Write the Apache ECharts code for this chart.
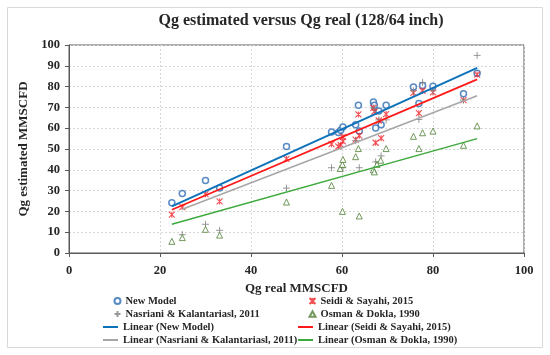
<!DOCTYPE html>
<html><head><meta charset="utf-8">
<script src="https://cdn.jsdelivr.net/npm/echarts@6/dist/echarts.min.js"></script>
<style>html,body{margin:0;padding:0;background:#fff}#c{width:550px;height:355px}</style>
</head><body><div id="c"></div>
<script>
// ---- data ----
const newModelX = [22.6, 24.9, 30.0, 33.1, 47.8, 57.7, 59.2, 59.7, 60.2, 63.0, 63.6, 63.8, 66.9, 67.1, 67.4, 68.1, 68.6, 69.7, 75.7, 76.9, 77.7, 80.0, 86.7, 89.7];
const newModelY = [24.2, 28.6, 34.9, 31.2, 51.2, 58.2, 57.9, 59.0, 60.6, 61.7, 71.0, 58.7, 72.6, 71.0, 60.1, 68.3, 61.7, 71.0, 79.8, 71.9, 80.5, 80.2, 76.6, 86.4];

const seidiX = [22.6, 24.9, 30.0, 33.1, 47.8, 57.7, 59.2, 59.7, 60.2, 60.2, 63.0, 63.6, 63.8, 66.9, 67.1, 67.4, 68.1, 68.6, 69.7, 75.7, 76.9, 77.7, 80.0, 86.7, 89.7];
const seidiY = [18.4, 22.1, 28.3, 24.8, 45.3, 52.3, 51.2, 52.0, 53.7, 55.8, 54.5, 66.6, 56.4, 69.8, 68.0, 53.0, 63.7, 55.2, 66.8, 77.0, 67.2, 78.0, 77.2, 73.5, 85.8];

const nasrianiX = [24.9, 30.0, 33.1, 47.8, 57.7, 60.2, 63.0, 63.8, 67.1, 67.4, 68.1, 68.6, 69.7, 75.7, 76.9, 77.7, 80.0, 86.7, 89.7];
const nasrianiY = [8.8, 13.8, 10.9, 31.2, 41.0, 41.0, 54.0, 41.0, 69.5, 43.8, 64.0, 46.7, 64.0, 78.0, 64.2, 82.0, 78.0, 73.5, 95.0];

const osmanX = [22.6, 24.9, 30.0, 33.1, 47.8, 57.7, 59.6, 60.1, 60.2, 60.1, 63.0, 63.6, 63.8, 66.9, 67.1, 67.7, 68.5, 69.7, 75.7, 76.9, 77.7, 80.0, 86.7, 89.7];
const osmanY = [5.6, 7.4, 11.4, 8.6, 24.5, 32.5, 40.6, 42.6, 45.0, 20.0, 46.3, 50.2, 17.8, 40.0, 39.0, 42.6, 44.6, 50.2, 56.1, 50.2, 57.8, 58.6, 51.8, 61.1];

// trend line end points (as drawn in the reference)
const trendNewX = [22.6, 89.7],       trendNewY = [22.4, 89.0];
const trendSeidiX = [22.6, 89.7],     trendSeidiY = [20.8, 83.5];
const trendNasrianiX = [24.9, 89.7],  trendNasrianiY = [21.0, 75.6];
const trendOsmanX = [22.6, 89.7],     trendOsmanY = [13.8, 55.0];

const names = {
  nm: 'New Model', sd: 'Seidi & Sayahi, 2015', ns: 'Nasriani & Kalantariasl, 2011', os: 'Osman & Dokla, 1990',
  lnm: 'Linear (New Model)', lsd: 'Linear (Seidi & Sayahi, 2015)', lns: 'Linear (Nasriani & Kalantariasl, 2011)', los: 'Linear (Osman & Dokla, 1990)'
};
const titleText = 'Qg estimated versus Qg real (128/64 inch)';
const xTitle = 'Qg real MMSCFD';
const yTitle = 'Qg estimated MMSCFD';

// ---- helpers ----
const pairs = (xs, ys) => xs.map((x, i) => [x, ys[i]]);
const FONT = '"Liberation Serif", "Times New Roman", serif';
const TXT = '#262626';

const SYM_STAR = 'path://M0,0L10,10M10,0L0,10M5,0L5,10';
const SYM_PLUS = 'path://M5,0L5,10M0,5L10,5';
const SYM_TRI = 'path://M5,0L10,9L0,9Z';

const chart = echarts.init(document.getElementById('c'), null, {renderer: 'canvas'});

const legendText = {fontFamily: FONT, fontWeight: 'bold', fontSize: 10.5, color: TXT, lineHeight: 11};
const legendBase = {orient: 'vertical', itemGap: 2, height: 40, padding: 0, selectedMode: false, textStyle: legendText};
const COL1 = 103, COL2 = 298, ROW1 = 295.5, ROW3 = 321.5;

chart.setOption({
  animation: false,
  backgroundColor: '#fff',
  title: {
    text: titleText, left: 296, top: 8, textAlign: 'center',
    textStyle: {fontFamily: FONT, fontWeight: 'bold', fontSize: 16, color: TXT}
  },
  graphic: [{
    type: 'rect', silent: true,
    shape: {x: 7.5, y: 7.5, width: 535, height: 340},
    style: {fill: 'none', stroke: '#d9d9d9', lineWidth: 1}
  }],
  grid: {
    left: 69, right: 26, top: 45, bottom: 102,
    containLabel: false, outerBoundsMode: 'none',
    show: true, borderColor: '#595959', borderWidth: 1, backgroundColor: 'transparent'
  },
  xAxis: {
    type: 'value', min: 0, max: 100, interval: 20,
    name: xTitle, nameLocation: 'middle', nameGap: 26,
    nameTextStyle: {fontFamily: FONT, fontWeight: 'bold', fontSize: 13, color: TXT},
    axisLine: {show: true, lineStyle: {color: '#595959', width: 1}},
    axisTick: {show: true, length: 4, lineStyle: {color: '#595959'}},
    axisLabel: {fontFamily: FONT, fontWeight: 'bold', fontSize: 12.5, color: TXT, margin: 11},
    splitLine: {show: true, lineStyle: {color: '#d6d6d6', type: [2, 2], width: 1}}
  },
  yAxis: {
    type: 'value', min: 0, max: 100, interval: 10,
    name: yTitle, nameLocation: 'middle', nameGap: 37, nameRotate: 90,
    nameTextStyle: {fontFamily: FONT, fontWeight: 'bold', fontSize: 13, color: TXT},
    axisLine: {show: true, lineStyle: {color: '#595959', width: 1}},
    axisTick: {show: true, length: 4, lineStyle: {color: '#595959'}},
    axisLabel: {fontFamily: FONT, fontWeight: 'bold', fontSize: 12.5, color: TXT, margin: 9},
    splitLine: {show: true, lineStyle: {color: '#d6d6d6', type: [2, 2], width: 1}}
  },
  legend: [
    Object.assign({}, legendBase, {left: COL1 + 9, top: ROW1, itemWidth: 6, itemHeight: 6, itemGap: 2,
      data: [{name: names.nm, icon: 'circle'}, {name: names.ns, icon: SYM_PLUS}]}),
    Object.assign({}, legendBase, {left: COL1, top: ROW3, itemWidth: 15, itemHeight: 2, icon: 'rect',
      data: [names.lnm, names.lns]}),
    Object.assign({}, legendBase, {left: COL2 + 9, top: ROW1, itemWidth: 6, itemHeight: 6, itemGap: 2,
      data: [{name: names.sd, icon: SYM_STAR}, {name: names.os, icon: SYM_TRI}]}),
    Object.assign({}, legendBase, {left: COL2, top: ROW3, itemWidth: 15, itemHeight: 2, icon: 'rect',
      data: [names.lsd, names.los]})
  ],
  series: [
    {
      name: names.nm, type: 'scatter', data: pairs(newModelX, newModelY),
      symbol: 'circle', symbolSize: 6, z: 2,
      itemStyle: {color: '#ffffff', borderColor: '#2E6DB4', borderWidth: 1.5}
    },
    {
      name: names.sd, type: 'scatter', data: pairs(seidiX, seidiY),
      symbol: SYM_STAR, symbolSize: 6, z: 2,
      itemStyle: {color: 'none', borderColor: '#F0242A', borderWidth: 1.1}
    },
    {
      name: names.ns, type: 'scatter', data: pairs(nasrianiX, nasrianiY),
      symbol: SYM_PLUS, symbolSize: 7, z: 2,
      itemStyle: {color: 'none', borderColor: '#808080', borderWidth: 1}
    },
    {
      name: names.os, type: 'scatter', data: pairs(osmanX, osmanY),
      symbol: SYM_TRI, symbolSize: 6, z: 2,
      itemStyle: {color: '#ffffff', borderColor: '#4E7F33', borderWidth: 1}
    },
    {
      name: names.lnm, type: 'line', data: pairs(trendNewX, trendNewY), symbol: 'none', z: 4,
      lineStyle: {color: '#0E72B9', width: 2}, itemStyle: {color: '#0E72B9'}
    },
    {
      name: names.lsd, type: 'line', data: pairs(trendSeidiX, trendSeidiY), symbol: 'none', z: 4,
      lineStyle: {color: '#FF1A1A', width: 1.8}, itemStyle: {color: '#FF1A1A'}
    },
    {
      name: names.lns, type: 'line', data: pairs(trendNasrianiX, trendNasrianiY), symbol: 'none', z: 4,
      lineStyle: {color: '#A6A6A6', width: 1.5}, itemStyle: {color: '#A6A6A6'}
    },
    {
      name: names.los, type: 'line', data: pairs(trendOsmanX, trendOsmanY), symbol: 'none', z: 4,
      lineStyle: {color: '#3DAA3D', width: 1.5}, itemStyle: {color: '#3DAA3D'}
    }
  ]
});
</script>
</body></html>
